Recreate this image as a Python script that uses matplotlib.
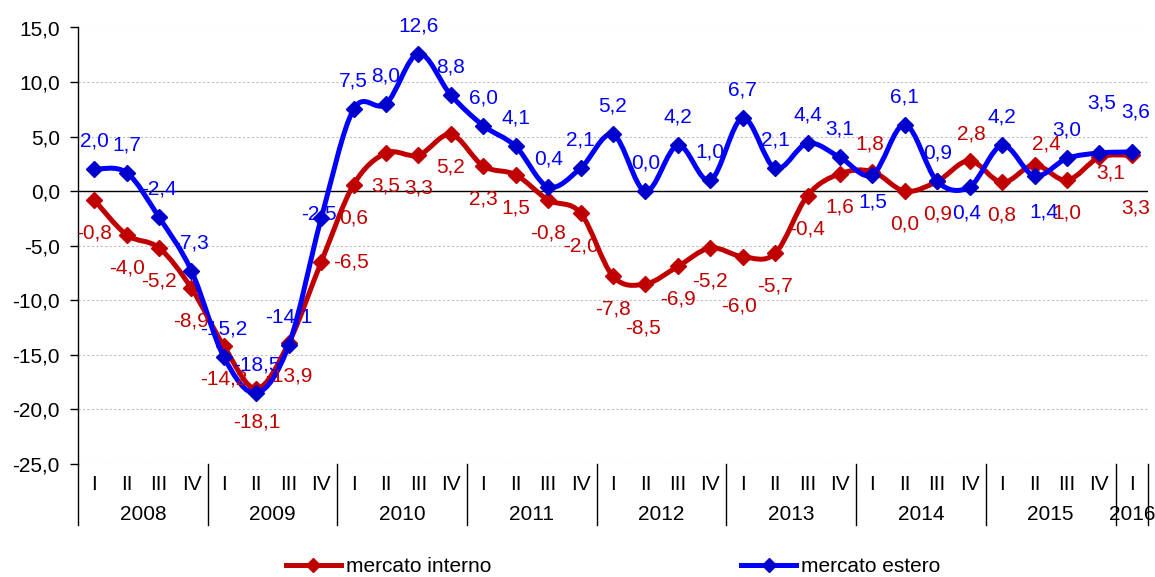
import matplotlib.pyplot as plt
from matplotlib.path import Path
from matplotlib.patches import PathPatch
from matplotlib.lines import Line2D

# quarters 2008 I .. 2016 I
years = ['2008', '2009', '2010', '2011', '2012', '2013', '2014', '2015', '2016']
quarters = ['I', 'II', 'III', 'IV']
interno = [-0.8, -4.0, -5.2, -8.9, -14.2, -18.1, -13.9, -6.5,
           0.6, 3.5, 3.3, 5.2, 2.3, 1.5, -0.8, -2.0,
           -7.8, -8.5, -6.9, -5.2, -6.0, -5.7, -0.4, 1.6,
           1.8, 0.0, 0.9, 2.8, 0.8, 2.4, 1.0, 3.1, 3.3]
estero = [2.0, 1.7, -2.4, -7.3, -15.2, -18.5, -14.1, -2.5,
          7.5, 8.0, 12.6, 8.8, 6.0, 4.1, 0.4, 2.1,
          5.2, 0.0, 4.2, 1.0, 6.7, 2.1, 4.4, 3.1,
          1.5, 6.1, 0.9, 0.4, 4.2, 1.4, 3.0, 3.5, 3.6]

RED = '#C00000'
BLUE = '#0000FF'
FONT = ['Liberation Sans', 'DejaVu Sans']
plt.rcParams['font.family'] = FONT

n = len(interno)
x = list(range(n))
qlabels = [quarters[i % 4] for i in range(n)]


def smooth_path(xs, ys):
    # excel-like smoothed line: cubic bezier through every point
    pts = list(zip(xs, ys))
    verts = [pts[0]]
    codes = [Path.MOVETO]
    for i in range(len(pts) - 1):
        p0 = pts[max(i - 1, 0)]
        p1 = pts[i]
        p2 = pts[i + 1]
        p3 = pts[min(i + 2, len(pts) - 1)]
        c1 = (p1[0] + (p2[0] - p0[0]) / 6, p1[1] + (p2[1] - p0[1]) / 6)
        c2 = (p2[0] - (p3[0] - p1[0]) / 6, p2[1] - (p3[1] - p1[1]) / 6)
        verts += [c1, c2, p2]
        codes += [Path.CURVE4] * 3
    return Path(verts, codes)


fig = plt.figure(figsize=(11.55, 5.77), dpi=100)
ax = fig.add_axes([78 / 1155, 1 - 464 / 577, (1148 - 78) / 1155, (464 - 27.5) / 577])
ax.set_xlim(-0.5, n - 0.5)
ax.set_ylim(-25, 15)

ax.set_yticks(range(-25, 16, 5))
ax.set_yticklabels([f"{v:.1f}".replace('.', ',') for v in range(-25, 16, 5)])
ax.tick_params(axis='y', labelsize=15, length=6, width=1, pad=7)
ax.set_xticks([])
ax.yaxis.grid(True, color='#BFBFBF', linestyle=(0, (2, 2)), linewidth=0.8)
for s in ['top', 'right', 'bottom']:
    ax.spines[s].set_visible(False)
ax.spines['left'].set_linewidth(1)
ax.axhline(0, color='black', linewidth=1, zorder=2)

ax.add_patch(PathPatch(smooth_path(x, interno), facecolor='none', edgecolor=RED,
                       linewidth=3.6, zorder=3, capstyle='round', joinstyle='round'))
ax.plot(x, interno, linestyle='none', marker='D', markersize=8, color=RED, zorder=4)
ax.add_patch(PathPatch(smooth_path(x, estero), facecolor='none', edgecolor=BLUE,
                       linewidth=3.6, zorder=5, capstyle='round', joinstyle='round'))
ax.plot(x, estero, linestyle='none', marker='D', markersize=8, color='#0000CC', zorder=6)

# label offsets in pixels (default: red below, blue above)
red_off = {i: (0, -33) for i in range(n)}
red_off.update({7: (30, 0), 17: (-2, -44), 20: (-4, -49), 24: (-3, 28),
                27: (2, 27), 29: (12, 21), 31: (11, -16), 32: (4, -53)})
blue_off = {i: (0, 28) for i in range(n)}
blue_off.update({7: (-2, 4), 24: (0, -27), 27: (-3, -26), 29: (9, -36),
                 31: (2, 50), 32: (4, 40)})

for i, v in enumerate(interno):
    ax.annotate(f"{v:.1f}".replace('.', ','), (i, v), xytext=red_off[i],
                textcoords='offset pixels', ha='center', va='center',
                color=RED, fontsize=15, zorder=7)
for i, v in enumerate(estero):
    ax.annotate(f"{v:.1f}".replace('.', ','), (i, v), xytext=blue_off[i],
                textcoords='offset pixels', ha='center', va='center',
                color=BLUE, fontsize=15, zorder=7)

# category axis: quarters, years, separators
trans = ax.get_xaxis_transform()
for i, q in enumerate(qlabels):
    ax.annotate(q, (i, 0), xycoords=trans, xytext=(0, -20), textcoords='offset pixels',
                ha='center', va='center', fontsize=15, annotation_clip=False)
for k, yr in enumerate(years):
    start = 4 * k
    end = min(4 * k + 3, n - 1)
    ax.annotate(yr, ((start + end) / 2, 0), xycoords=trans, xytext=(0, -50),
                textcoords='offset pixels', ha='center', va='center', fontsize=15,
                annotation_clip=False)
sep_depth = (525 - 464) / (464 - 27.5)
for b in [-0.5 + 4 * k for k in range(9)] + [n - 0.5]:
    ax.plot([b, b], [0, -sep_depth], transform=trans, color='black', linewidth=1,
            clip_on=False)

handles = [Line2D([], [], color=RED, linewidth=3.6, marker='D', markersize=7),
           Line2D([], [], color=BLUE, linewidth=3.6, marker='D', markersize=7,
                  markerfacecolor='#0000CC', markeredgecolor='#0000CC')]
fig.legend(handles, ['mercato interno', 'mercato estero'], loc='center',
           bbox_to_anchor=(613 / 1155, 1 - 567 / 577), ncol=2, frameon=False,
           prop={'size': 15},
           handlelength=2.64, handletextpad=0.24, columnspacing=12.0, borderpad=0.1)

fig.savefig('out.png', dpi=100)
